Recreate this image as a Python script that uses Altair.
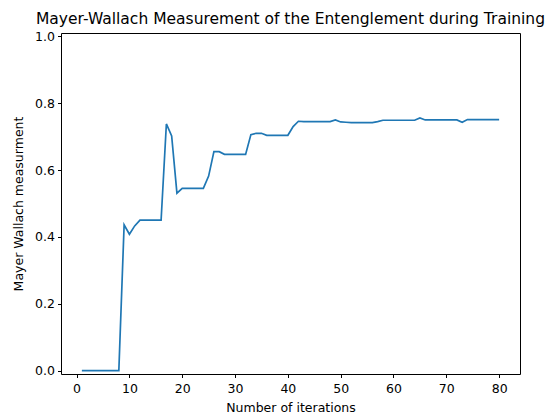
import altair as alt
import pandas as pd

iterations = list(range(1, 81))
mw_values = [
    0.0, 0.0, 0.0, 0.0, 0.0, 0.0, 0.0, 0.0,          # 1-8
    0.436, 0.408, 0.433, 0.450,                       # 9-12
    0.450, 0.450, 0.450, 0.450,                       # 13-16
    0.738, 0.702, 0.531, 0.545,                       # 17-20
    0.545, 0.545, 0.545, 0.545,                       # 21-24
    0.582, 0.655, 0.655, 0.647,                       # 25-28
    0.647, 0.647, 0.647, 0.647,                       # 29-32
    0.706, 0.710, 0.710, 0.704,                       # 33-36
    0.704, 0.704, 0.704, 0.704,                       # 37-40
    0.730, 0.746,                                     # 41-42
    0.745, 0.745, 0.745, 0.745, 0.745, 0.745,         # 43-48
    0.750, 0.744, 0.743,                              # 49-51
    0.742, 0.742, 0.742, 0.742, 0.742,                # 52-56
    0.745,                                            # 57
    0.749, 0.749, 0.749, 0.749, 0.749, 0.749, 0.749,  # 58-64
    0.756, 0.750,                                     # 65-66
    0.750, 0.750, 0.750, 0.750, 0.750, 0.750,         # 67-72
    0.743,                                            # 73
    0.751, 0.751, 0.751, 0.751, 0.751, 0.751, 0.751,  # 74-80
]
x_ticks = [0, 10, 20, 30, 40, 50, 60, 70, 80]
y_ticks = [0.0, 0.2, 0.4, 0.6, 0.8, 1.0]

df = pd.DataFrame({"iteration": iterations, "mw": mw_values})

FONT = "DejaVu Sans"

chart = (
    alt.Chart(df)
    .mark_line(color="#1f77b4", strokeWidth=1.7, clip=True)
    .encode(
        x=alt.X(
            "iteration:Q",
            scale=alt.Scale(domain=[-2.95, 83.95], nice=False, zero=False),
            axis=alt.Axis(values=x_ticks, format="d", title="Number of iterations",
                          titlePadding=6, labelPadding=5),
        ),
        y=alt.Y(
            "mw:Q",
            scale=alt.Scale(domain=[-0.01, 1.01], nice=False, zero=False),
            axis=alt.Axis(values=y_ticks, format=".1f", title="Mayer Wallach measurment",
                          titlePadding=9, labelPadding=3),
        ),
    )
    .properties(
        width=459,
        height=341,
        background="white",
        title=alt.TitleParams(
            "Mayer-Wallach Measurement of the Entenglement during Training",
            font=FONT, fontSize=15.5, fontWeight="normal", color="black",
            anchor="middle", offset=3,
        ),
        autosize=alt.AutoSizeParams(type="none"),
        padding={"left": 61, "top": 33, "right": 31, "bottom": 42},
    )
    .configure_view(stroke="black", strokeWidth=1)
    .configure_axis(
        grid=False,
        domain=False,
        ticks=True,
        tickColor="black",
        tickSize=3.5,
        tickWidth=1,
        labelFont=FONT,
        labelFontSize=12.5,
        labelColor="black",
        titleFont=FONT,
        titleFontSize=12.5,
        titleFontWeight="normal",
        titleColor="black",
    )
)

chart.save("out.html", embed_options={"renderer": "svg", "actions": False})
